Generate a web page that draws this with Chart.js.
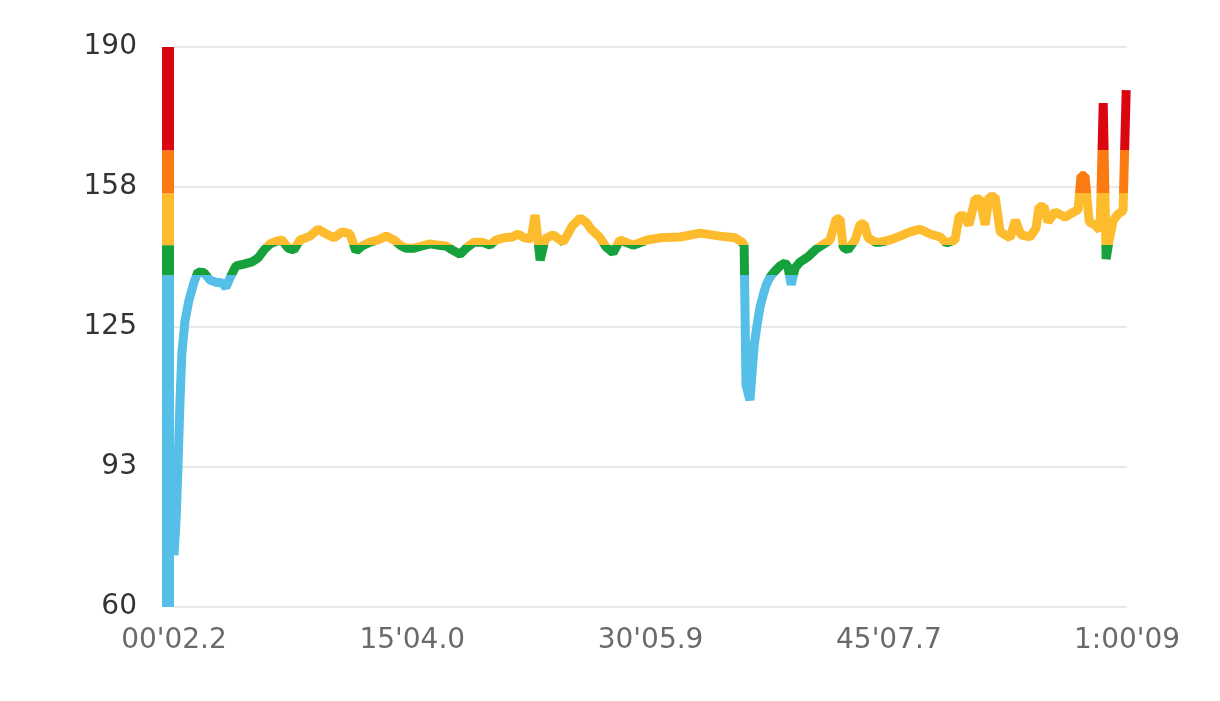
<!DOCTYPE html>
<html>
<head>
<meta charset="utf-8">
<script src="https://cdn.jsdelivr.net/npm/chart.js@4"></script>
<style>
  html, body { margin: 0; padding: 0; background: #fff; }
  #wrap { width: 1220px; height: 701px; }
</style>
</head>
<body>
<div id="wrap"><canvas id="hrChart" width="1220" height="701"></canvas></div>
<script>
// elapsed time (s) and heart rate (bpm)
const timeSec = [
  2, 10, 17, 25, 32, 44, 59, 78, 93, 116, 138, 161, 184, 199, 214, 237, 267, 297, 320, 343,
  366, 388, 411, 434, 456, 479, 517, 547, 578, 608, 638, 668, 691, 714, 744, 774, 805, 835, 858, 880,
  911, 941, 971, 1002, 1032, 1055, 1085, 1108, 1138, 1168, 1198, 1221, 1251, 1282, 1304, 1327, 1354, 1369, 1388, 1407,
  1437, 1475, 1509, 1539, 1562, 1584, 1615, 1637, 1664, 1690, 1740, 1793, 1842, 1918, 1993, 2069, 2126, 2152, 2160, 2167,
  2182, 2198, 2209, 2220, 2232, 2243, 2258, 2277, 2296, 2315, 2326, 2338, 2353, 2372, 2402, 2429, 2455, 2485, 2508, 2523,
  2535, 2553, 2580, 2599, 2614, 2629, 2656, 2675, 2712, 2750, 2788, 2826, 2864, 2902, 2924, 2958, 2974, 2993, 3011, 3034,
  3053, 3072, 3087, 3110, 3129, 3167, 3186, 3208, 3242, 3265, 3276, 3295, 3310, 3337, 3375, 3401, 3424, 3435, 3450, 3466,
  3488, 3507, 3519, 3530, 3541, 3557, 3575, 3587, 3594, 3606
];
const heartRate = [
  72, 80, 92, 108, 119, 126.5, 131.3, 135.4, 137.8, 137.6, 135.9, 135.4, 135.2, 134.2, 136.4, 139.2, 139.6, 140.1, 141, 142.9,
  144.3, 144.9, 145.2, 143.3, 142.9, 145.2, 146.1, 147.7, 146.6, 145.7, 147.1, 146.6, 142.6, 143.8, 144.7, 145.2, 146.1, 145.2, 144, 143.3,
  143.3, 143.8, 144.3, 144, 143.8, 142.9, 141.9, 143.3, 144.7, 144.7, 144, 145.2, 145.7, 145.9, 146.6, 145.7, 145.5, 151, 140.5, 145.5,
  146.4, 144.7, 148.4, 150.3, 149.3, 147.5, 145.7, 143.6, 142.2, 145.2, 144, 145.2, 145.7, 145.9, 146.8, 146.1, 145.7, 144.7, 144, 111.5,
  108, 120.8, 125.5, 129.6, 132.4, 134.7, 136.6, 138, 139.2, 139.9, 138.9, 134.8, 138.7, 140.1, 141.3, 142.9, 144, 145.2, 150.1, 150.1,
  143.5, 142.9, 145.2, 148.9, 148.9, 145.7, 144.7, 144.7, 145.2, 146.1, 147.1, 147.7, 146.6, 145.9, 144.5, 145.2, 150.8, 150.8, 148.7, 154.7,
  154.7, 148.7, 155.2, 155.2, 147.1, 145.7, 149.8, 146.4, 145.9, 148, 152.9, 152.9, 149.4, 151.7, 150.5, 151.5, 152.2, 160.1, 160.1, 149.4,
  148.7, 147.5, 177, 140.8, 145, 149.8, 151.2, 151.7, 152, 180
];

// heart-rate zones: boundaries (bpm) and colours, lowest first
const zoneBounds = [60, 137, 144, 156, 166, 190];
const zoneColors = ['#55bfe7', '#16a13c', '#fdbc2e', '#fb7b12', '#da0610'];

const yTickValues = [60, 92.5, 125, 157.5, 190];
const yTickLabels = ['60', '93', '125', '158', '190'];
const xTickValues = [2.2, 904.0, 1805.9, 2707.7, 3609];
const xTickLabels = ["00'02.2", "15'04.0", "30'05.9", "45'07.7", "1:00'09"];

const FONT = '"DejaVu Sans", Inter, sans-serif';

// line colour follows the zone of each y value
function zoneGradient(context) {
  const chart = context.chart;
  const { ctx, chartArea, scales } = chart;
  if (!chartArea) return zoneColors[0];
  const lo = zoneBounds[0], hi = zoneBounds[zoneBounds.length - 1];
  const g = ctx.createLinearGradient(0, scales.y.getPixelForValue(lo), 0, scales.y.getPixelForValue(hi));
  for (let i = 0; i < zoneColors.length; i++) {
    g.addColorStop((zoneBounds[i] - lo) / (hi - lo), zoneColors[i]);
    g.addColorStop((zoneBounds[i + 1] - lo) / (hi - lo), zoneColors[i]);
  }
  return g;
}

// zone bar drawn just left of the plot area
const zoneBar = {
  id: 'zoneBar',
  afterDatasetsDraw(chart) {
    const { ctx, chartArea, scales } = chart;
    const w = 12;
    ctx.save();
    for (let i = 0; i < zoneColors.length; i++) {
      const top = scales.y.getPixelForValue(zoneBounds[i + 1]);
      const bottom = scales.y.getPixelForValue(zoneBounds[i]);
      ctx.fillStyle = zoneColors[i];
      ctx.fillRect(chartArea.left - w, top, w, bottom - top);
    }
    ctx.restore();
  }
};

const points = timeSec.map((t, i) => ({ x: t, y: heartRate[i] }));

new Chart(document.getElementById('hrChart'), {
  type: 'line',
  data: {
    datasets: [{
      data: points,
      borderColor: zoneGradient,
      borderWidth: 9,
      borderCapStyle: 'butt',
      borderJoinStyle: 'bevel',
      pointRadius: 0,
      tension: 0,
      fill: false,
      clip: false
    }]
  },
  options: {
    responsive: false,
    animation: false,
    layout: { padding: { top: 47, right: 93, left: 0, bottom: 0 } },
    plugins: { legend: { display: false }, tooltip: { enabled: false } },
    scales: {
      x: {
        type: 'linear',
        min: 2.2,
        max: 3609,
        afterBuildTicks: (s) => { s.ticks = xTickValues.map(v => ({ value: v })); },
        afterFit: (s) => { s.height = 94; },
        grid: { display: false },
        border: { display: false },
        ticks: {
          autoSkip: false,
          maxRotation: 0,
          padding: 9,
          color: '#6a6a6a',
          font: { family: FONT, size: 28 },
          callback: (v, i) => xTickLabels[i]
        }
      },
      y: {
        min: 60,
        max: 190,
        afterBuildTicks: (s) => { s.ticks = yTickValues.map(v => ({ value: v })); },
        afterFit: (s) => { s.width = 174; },
        // invisible tick marks keep the labels clear of the zone bar
        grid: { color: '#e8e8e8', lineWidth: 2, drawTicks: true, tickLength: 34, tickColor: 'rgba(0,0,0,0)' },
        border: { display: false },
        ticks: {
          padding: 3,
          color: '#333333',
          font: { family: FONT, size: 28 },
          callback: (v, i) => yTickLabels[i]
        }
      }
    }
  },
  plugins: [zoneBar]
});
</script>
</body>
</html>
